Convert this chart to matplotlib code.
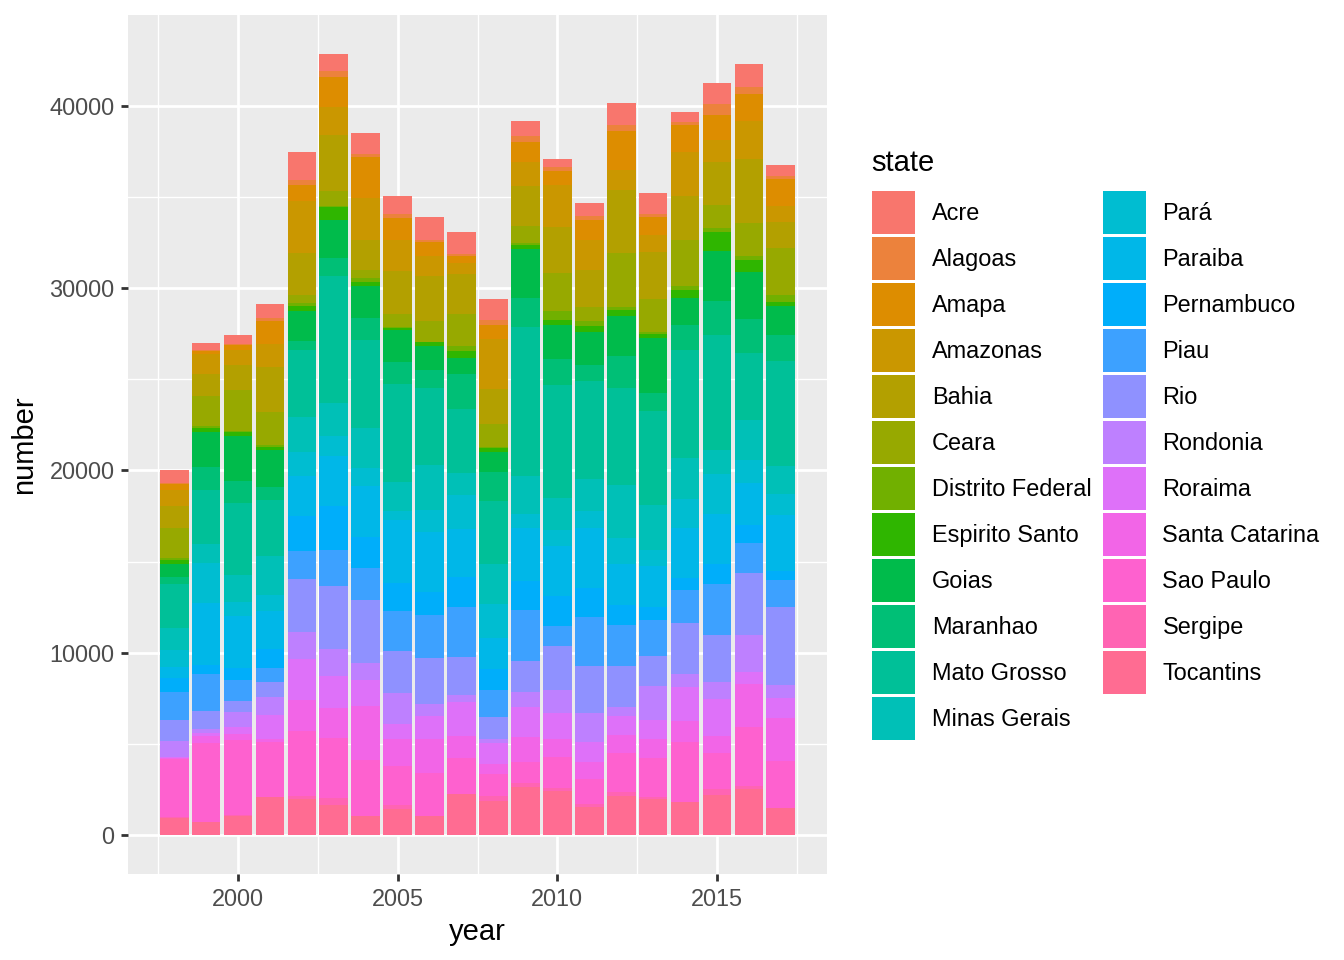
import math
import matplotlib
matplotlib.use("Agg")
import matplotlib.pyplot as plt
from matplotlib.patches import Patch

plt.rcParams['font.family'] = ['Liberation Sans', 'DejaVu Sans']

years = list(range(1998, 2018))
states = ['Acre', 'Alagoas', 'Amapa', 'Amazonas', 'Bahia', 'Ceara', 'Distrito Federal',
          'Espirito Santo', 'Goias', 'Maranhao', 'Mato Grosso', 'Minas Gerais', 'Pará',
          'Paraiba', 'Pernambuco', 'Piau', 'Rio', 'Rondonia', 'Roraima', 'Santa Catarina',
          'Sao Paulo', 'Sergipe', 'Tocantins']

acre = [749, 347, 457, 803, 1534, 931, 1169, 1004, 1278, 1223, 1150, 822, 438, 730, 1205, 1169, 566, 1169, 1260, 603]
alagoas = [73, 91, 91, 128, 274, 329, 146, 201, 146, 110, 274, 329, 219, 219, 329, 146, 146, 584, 402, 164]
amapa = [292, 128, 237, 1296, 876, 1643, 2283, 1242, 767, 420, 767, 1096, 767, 1096, 2155, 986, 1479, 1388, 1461, 1479]
amazonas = [895, 1132, 858, 1278, 2849, 1534, 2319, 1662, 1059, 603, 2739, 1315, 2301, 1643, 1096, 950, 2429, 1205, 2082, 931]
bahia = [1205, 1205, 1370, 2447, 2301, 3068, 1643, 2356, 2502, 2191, 1917, 2191, 2520, 2009, 3433, 2556, 2447, 2337, 3506, 1424]
ceara = [1625, 1643, 2246, 1820, 438, 840, 402, 712, 1132, 1753, 1296, 931, 2082, 767, 2958, 1808, 2520, 1296, 1808, 2575]
distrito_federal = [146, 73, 55, 91, 164, 37, 256, 73, 18, 274, 55, 110, 493, 274, 183, 128, 219, 183, 219, 383]
espirito_santo = [219, 237, 183, 146, 274, 712, 183, 110, 219, 383, 183, 219, 274, 329, 329, 219, 402, 1041, 657, 219]
goias = [694, 1939, 2505, 2045, 1643, 2082, 1789, 1735, 1315, 876, 1096, 2684, 1863, 1808, 2173, 2995, 1516, 2739, 2575, 1589]
maranhao = [402, 1260, 1223, 730, 493, 986, 1205, 1205, 950, 1917, 1643, 1589, 1424, 876, 1771, 986, 1370, 1863, 1863, 1424]
mato_grosso = [2392, 2958, 3926, 3049, 3670, 6957, 4821, 5373, 4258, 3510, 3451, 8166, 6249, 5427, 5354, 5208, 5902, 6322, 3670, 5720]
minas_gerais = [1223, 1059, 1461, 2155, 1958, 1826, 2158, 1643, 2465, 1205, 2155, 2100, 1716, 1735, 2867, 2465, 2283, 1315, 2195, 1570]
para = [913, 2191, 767, 876, 1278, 1082, 1004, 493, 1205, 1863, 1899, 767, 876, 950, 1424, 876, 1570, 2191, 1260, 1150]
paraiba = [603, 3378, 2849, 2082, 2246, 2776, 2794, 3451, 3287, 2629, 1698, 2940, 2739, 3287, 2283, 2228, 2739, 2776, 2356, 3068]
pernambuco = [767, 493, 676, 1041, 1917, 2429, 1716, 1534, 1260, 1643, 1150, 1589, 1643, 1589, 1096, 730, 657, 1096, 986, 493]
piau = [1552, 2027, 1150, 767, 1534, 1972, 1753, 2191, 2356, 2739, 1479, 2794, 1096, 2684, 2246, 1972, 1808, 2794, 1643, 1479]
rio = [1150, 986, 584, 822, 2903, 3451, 3451, 2301, 2520, 2082, 1205, 1698, 2410, 2593, 2264, 1643, 2794, 2575, 3396, 4273]
rondonia = [895, 237, 876, 1023, 1479, 1461, 931, 1680, 657, 383, 237, 840, 1315, 1570, 475, 1863, 712, 950, 2027, 712]
roraima = [55, 183, 383, 1296, 2246, 1753, 1424, 840, 1278, 1863, 1132, 1643, 1424, 1096, 1059, 1059, 1863, 2009, 657, 1096]
santa_catarina = [55, 365, 292, 183, 1698, 1643, 2958, 1479, 1863, 1205, 548, 1351, 986, 950, 986, 1023, 1150, 950, 2356, 2356]
sao_paulo = [3177, 4328, 4145, 2976, 3561, 3287, 3068, 2136, 2337, 1972, 1205, 1169, 1680, 1351, 2118, 2118, 3287, 1954, 3232, 2593]
sergipe = [55, 18, 18, 18, 164, 402, 18, 219, 18, 18, 274, 219, 146, 164, 219, 110, 18, 329, 164, 18]
tocantins = [913, 694, 1059, 2082, 1972, 1643, 1041, 1424, 1041, 2246, 1863, 2611, 2429, 1534, 2136, 1990, 1808, 2191, 2520, 1461]

counts = [acre, alagoas, amapa, amazonas, bahia, ceara, distrito_federal, espirito_santo,
          goias, maranhao, mato_grosso, minas_gerais, para, paraiba, pernambuco, piau, rio,
          rondonia, roraima, santa_catarina, sao_paulo, sergipe, tocantins]


def hcl(h, c, l):
    # polar Luv -> sRGB, like R's hcl()
    xn, yn, zn = 95.047, 100.0, 108.883
    un = 4 * xn / (xn + 15 * yn + 3 * zn)
    vn = 9 * yn / (xn + 15 * yn + 3 * zn)
    hr = math.radians(h)
    u = c * math.cos(hr)
    v = c * math.sin(hr)
    Y = yn * (((l + 16) / 116) ** 3 if l > 7.999592 else l / 903.3)
    uu = u / (13 * l) + un
    vv = v / (13 * l) + vn
    X = 9.0 * Y * uu / (4 * vv)
    Z = -X / 3 - 5 * Y + 3 * Y / vv
    X, Y, Z = X / 100, Y / 100, Z / 100
    r = 3.240479 * X - 1.537150 * Y - 0.498535 * Z
    g = -0.969256 * X + 1.875992 * Y + 0.041556 * Z
    b = 0.055648 * X - 0.204043 * Y + 1.057311 * Z

    def gam(t):
        t = 12.92 * t if t <= 0.0031308 else 1.055 * t ** (1 / 2.4) - 0.055
        return min(max(t, 0.0), 1.0)
    return (gam(r), gam(g), gam(b))


n = len(states)
hues = [15 + 360 * i / n for i in range(n)]
colors = [hcl(h, 100, 65) for h in hues]

fig = plt.figure(figsize=(13.44, 9.6), dpi=100)
ax = fig.add_axes([128 / 1344, 1 - 874 / 960, (827 - 128) / 1344, (874 - 15) / 960])
ax.set_facecolor('#EBEBEB')

# ggplot stacks the first level on top, so draw from the last one up
bottoms = [0] * len(years)
for i in range(n - 1, -1, -1):
    ax.bar(years, counts[i], width=0.9, bottom=bottoms, color=colors[i], linewidth=0, zorder=3)
    bottoms = [b + v for b, v in zip(bottoms, counts[i])]

top = max(bottoms)
ax.set_ylim(-0.05 * top, 1.05 * top)
ax.set_xlim(1997.55 - 0.995, 2017.45 + 0.995)

ax.set_xticks([2000, 2005, 2010, 2015])
ax.set_xticks([1997.5, 2002.5, 2007.5, 2012.5, 2017.5], minor=True)
ax.set_yticks([0, 10000, 20000, 30000, 40000])
ax.set_yticks([5000, 15000, 25000, 35000], minor=True)

ax.grid(which='major', color='white', linewidth=2.0, zorder=0)
ax.grid(which='minor', color='white', linewidth=1.0, zorder=0)
ax.set_axisbelow(True)
for sp in ax.spines.values():
    sp.set_visible(False)

ax.tick_params(which='major', length=5.3, width=2.0, color='#333333',
               labelsize=16.9, labelcolor='#4D4D4D', pad=4.5)
ax.tick_params(which='minor', length=0)

ax.set_xlabel('year', fontsize=21, labelpad=5)
ax.set_ylabel('number', fontsize=21, labelpad=8)

fig.text(871 / 1344, 1 - 163 / 960, 'state', fontsize=21, ha='left', va='center')
handles = [Patch(facecolor=colors[i], edgecolor='none', label=states[i]) for i in range(n)]
leg = fig.legend(handles=handles, loc='upper left', ncol=2,
                 bbox_to_anchor=(872 / 1344, 1 - 191 / 960), frameon=False,
                 fontsize=16.9, handlelength=1.83, handleheight=2.44,
                 labelspacing=0.13, handletextpad=0.72, columnspacing=0.47,
                 borderpad=0, borderaxespad=0)

fig.savefig('out.png', dpi=100)
